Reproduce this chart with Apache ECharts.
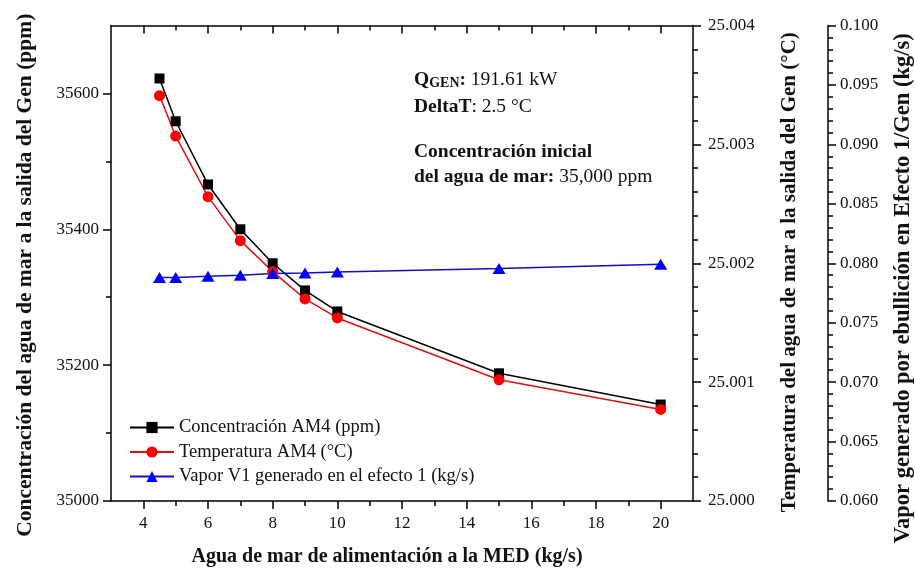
<!DOCTYPE html>
<html>
<head>
<meta charset="utf-8">
<script src="https://cdn.jsdelivr.net/npm/echarts@6/dist/echarts.min.js"></script>
<style>
html,body{margin:0;padding:0;background:#fff;overflow:hidden;}
#chart{width:915px;height:571px;}
</style>
</head>
<body>
<div id="chart"></div>
<script>
// ---- data ----
const feedFlow = [4.5, 5, 6, 7, 8, 9, 10, 15, 20];
const concentration = [35622, 35559, 35466, 35400, 35350, 35310, 35279, 35188, 35142];
const temperature = [25.00341, 25.00307, 25.00256, 25.00219, 25.00193, 25.00170, 25.00154, 25.00102, 25.00077];
const vapor = [0.07880, 0.07880, 0.07891, 0.07899, 0.07913, 0.07918, 0.07927, 0.07955, 0.07992];

const xMajorTicks = [4, 6, 8, 10, 12, 14, 16, 18, 20];
const xMinorTicks = [5, 7, 9, 11, 13, 15, 17, 19];
const yLeftMajorTicks = [35000, 35200, 35400, 35600];
const yLeftMinorTicks = [35100, 35300, 35500];

const seriesNames = ['Concentración AM4 (ppm)', 'Temperatura AM4 (°C)', 'Vapor V1 generado en el efecto 1 (kg/s)'];
const xTitle = 'Agua de mar de alimentación a la MED (kg/s)';
const yLeftTitle = 'Concentración del agua de mar a la salida del Gen (ppm)';
const yTempTitle = 'Temperatura del agua de mar a la salida del Gen (°C)';
const yVaporTitle = 'Vapor generado por ebullición en Efecto 1/Gen (kg/s)';

const FONT = '"Liberation Serif","Times New Roman",serif';
const INK = '#111';
const lineStyle = {color: '#000', width: 1.5};
const tickFont = {fontFamily: FONT, fontSize: 17, color: INK};

function pairs(ys) { return feedFlow.map((x, i) => [x, ys[i]]); }

const chart = echarts.init(document.getElementById('chart'), null, {renderer: 'canvas', width: 915, height: 571});

const annoB = {fontFamily: FONT, fontWeight: 'bold', fontSize: 19.5, fill: INK, verticalAlign: 'bottom', lineHeight: 22};
const annoN = {fontFamily: FONT, fontSize: 19.5, fill: INK, verticalAlign: 'bottom', lineHeight: 22};
const annoS = {fontFamily: FONT, fontWeight: 'bold', fontSize: 14, fill: INK, verticalAlign: 'bottom', lineHeight: 20};
const annoRich = {b: annoB, n: annoN, s: annoS};

function anno(text, y) {
  return {type: 'text', left: 414, top: y, style: {text: text, rich: annoRich}};
}

const option = {
  backgroundColor: '#fff',
  animation: false,
  grid: {left: 111, right: 222, top: 25.5, bottom: 70, containLabel: false, outerBoundsMode: 'none'},
  legend: {
    orient: 'vertical',
    left: 129, top: 418, padding: 0,
    itemWidth: 44, itemHeight: 14, itemGap: 5.5,
    textStyle: {fontFamily: FONT, fontSize: 18.5, lineHeight: 18, color: INK},
    data: seriesNames
  },
  graphic: [
    anno('{b|Q}{s|GEN}{b|:}{n| 191.61 kW}', 70),
    anno('{b|DeltaT}{n|: 2.5 °C}', 97),
    anno('{b|Concentración inicial}', 142),
    anno('{b|del agua de mar:}{n| 35,000 ppm}', 167)
  ],
  xAxis: [
    {
      type: 'value', min: 3, max: 21, position: 'bottom',
      axisLine: {show: true, lineStyle: lineStyle},
      axisTick: {show: true, inside: false, length: 8, lineStyle: lineStyle, customValues: xMajorTicks},
      axisLabel: Object.assign({show: true, customValues: xMajorTicks, margin: 14}, tickFont),
      splitLine: {show: false},
      name: xTitle, nameLocation: 'middle', nameGap: 46,
      nameTextStyle: {fontFamily: FONT, fontWeight: 'bold', fontSize: 20, color: INK, padding: [0, 30, 0, 0]}
    },
    {
      type: 'value', min: 3, max: 21, position: 'bottom',
      axisLine: {show: false},
      axisTick: {show: true, inside: false, length: 5, lineStyle: lineStyle, customValues: xMinorTicks},
      axisLabel: {show: false},
      splitLine: {show: false}
    },
    {
      type: 'value', min: 3, max: 21, position: 'top',
      axisLine: {show: true, lineStyle: lineStyle},
      axisTick: {show: true, inside: true, length: 8, lineStyle: lineStyle, customValues: xMajorTicks},
      axisLabel: {show: false},
      splitLine: {show: false}
    },
    {
      type: 'value', min: 3, max: 21, position: 'top',
      axisLine: {show: false},
      axisTick: {show: true, inside: true, length: 5, lineStyle: lineStyle, customValues: xMinorTicks},
      axisLabel: {show: false},
      splitLine: {show: false}
    }
  ],
  yAxis: [
    {
      type: 'value', min: 35000, max: 35700, position: 'left',
      axisLine: {show: true, lineStyle: lineStyle},
      axisTick: {show: true, inside: false, length: 8, lineStyle: lineStyle, customValues: yLeftMajorTicks},
      axisLabel: Object.assign({show: true, customValues: yLeftMajorTicks, margin: 12, formatter: v => String(v)}, tickFont),
      splitLine: {show: false},
      name: yLeftTitle, nameLocation: 'middle', nameRotate: 90, nameGap: 75,
      nameTextStyle: {fontFamily: FONT, fontWeight: 'bold', fontSize: 21.5, color: INK, padding: [0, 24, 0, 0]}
    },
    {
      type: 'value', min: 35000, max: 35700, position: 'left',
      axisLine: {show: false},
      axisTick: {show: true, inside: false, length: 5, lineStyle: lineStyle, customValues: yLeftMinorTicks},
      axisLabel: {show: false},
      splitLine: {show: false}
    },
    {
      type: 'value', min: 25, max: 25.004, interval: 0.001, position: 'right', offset: 0,
      axisLine: {show: true, lineStyle: lineStyle},
      axisTick: {show: true, inside: false, length: 8, lineStyle: lineStyle},
      minorTick: {show: true, splitNumber: 5, length: 5, lineStyle: lineStyle},
      axisLabel: Object.assign({show: true, margin: 15, formatter: v => v.toFixed(3)}, tickFont),
      splitLine: {show: false},
      name: yTempTitle, nameLocation: 'middle', nameRotate: 90, nameGap: 86,
      nameTextStyle: {fontFamily: FONT, fontWeight: 'bold', fontSize: 21, color: INK, padding: [0, 18, 0, 0]}
    },
    {
      type: 'value', min: 0.06, max: 0.1, interval: 0.005, position: 'right', offset: 135,
      axisLine: {show: true, lineStyle: lineStyle},
      axisTick: {show: true, inside: false, length: 8, lineStyle: lineStyle},
      minorTick: {show: true, splitNumber: 5, length: 5, lineStyle: lineStyle},
      axisLabel: Object.assign({show: true, margin: 12, formatter: v => v.toFixed(3)}, tickFont),
      splitLine: {show: false},
      name: yVaporTitle, nameLocation: 'middle', nameRotate: 90, nameGap: 64,
      nameTextStyle: {fontFamily: FONT, fontWeight: 'bold', fontSize: 22.5, color: INK, padding: [0, 50, 0, 0]}
    }
  ],
  series: [
    {
      name: seriesNames[0], type: 'line', xAxisIndex: 0, yAxisIndex: 0,
      data: pairs(concentration),
      symbol: 'rect', symbolSize: 10,
      lineStyle: {color: '#000', width: 1.5},
      itemStyle: {color: '#000'}
    },
    {
      name: seriesNames[1], type: 'line', xAxisIndex: 0, yAxisIndex: 2,
      data: pairs(temperature),
      symbol: 'circle', symbolSize: 11,
      lineStyle: {color: '#e01010', width: 1.5},
      itemStyle: {color: '#ff0000'}
    },
    {
      name: seriesNames[2], type: 'line', xAxisIndex: 0, yAxisIndex: 3,
      data: pairs(vapor),
      symbol: 'triangle', symbolSize: [13, 11],
      lineStyle: {color: '#1010c0', width: 1.5},
      itemStyle: {color: '#0000ff'}
    }
  ]
};
chart.setOption(option);
</script>
</body>
</html>
